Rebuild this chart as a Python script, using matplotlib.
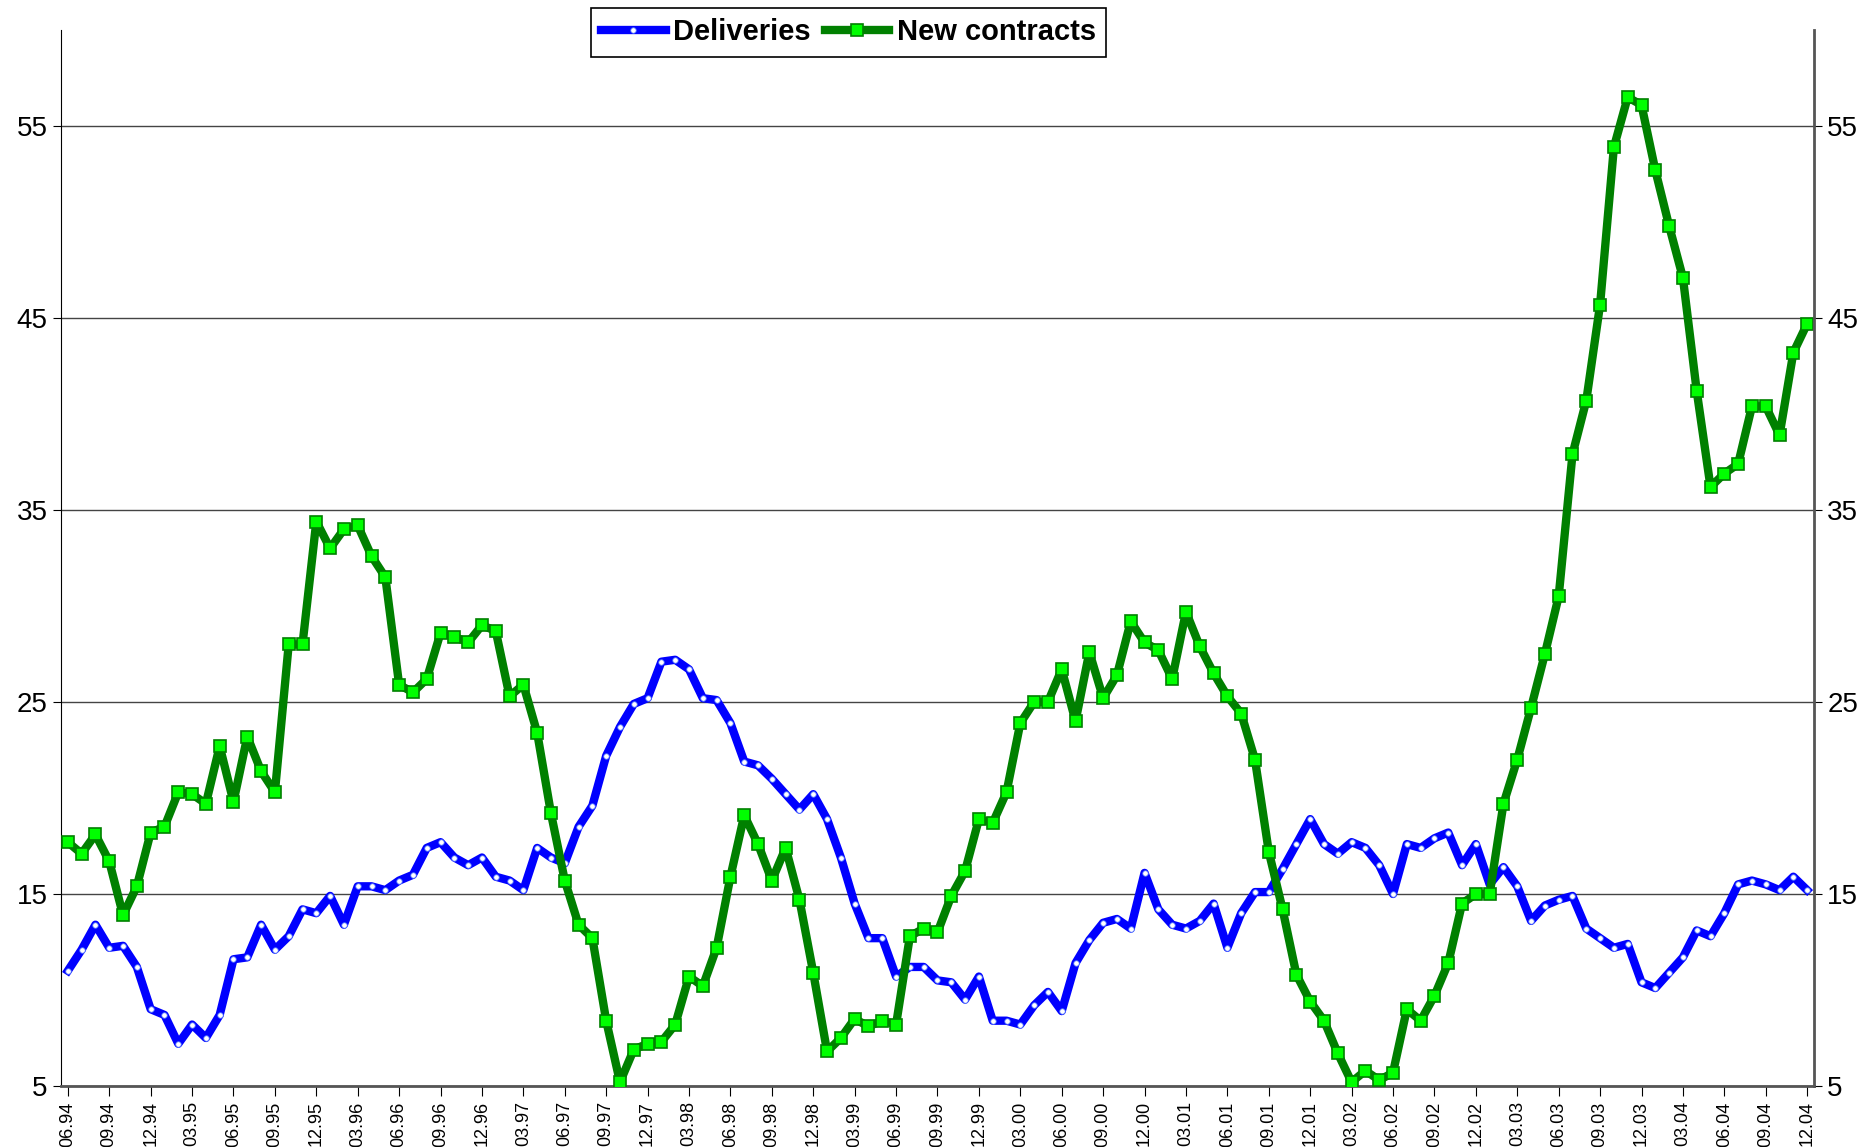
import pandas as pd
import matplotlib.pyplot as plt
import numpy as np

plt.rcParams['font.family'] = ['Liberation Sans', 'DejaVu Sans']

# monthly observations, 06.94 .. 12.04
months = pd.period_range("1994-06", "2004-12", freq="M")
month_labels = [m.strftime("%m.%y") for m in months]

deliveries = [
    11.0, 12.1, 13.4, 12.2, 12.3, 11.2, 9.0, 8.7, 7.2, 8.2, 7.5, 8.7,
    11.6, 11.7, 13.4, 12.1, 12.8, 14.2, 14.0, 14.9, 13.4, 15.4, 15.4, 15.2,
    15.7, 16.0, 17.4, 17.7, 16.9, 16.5, 16.9, 15.9, 15.7, 15.2, 17.4, 16.9,
    16.6, 18.5, 19.6, 22.2, 23.7, 24.9, 25.2, 27.1, 27.2, 26.7, 25.2, 25.1,
    23.9, 21.9, 21.7, 21.0, 20.2, 19.4, 20.2, 18.9, 16.9, 14.5, 12.7, 12.7,
    10.7, 11.2, 11.2, 10.5, 10.4, 9.5, 10.7, 8.4, 8.4, 8.2, 9.2, 9.9,
    8.9, 11.4, 12.6, 13.5, 13.7, 13.2, 16.1, 14.2, 13.4, 13.2, 13.6, 14.5,
    12.2, 14.0, 15.1, 15.1, 16.3, 17.6, 18.9, 17.6, 17.1, 17.7, 17.4, 16.5,
    15.0, 17.6, 17.4, 17.9, 18.2, 16.5, 17.6, 15.5, 16.4, 15.4, 13.6, 14.4,
    14.7, 14.9, 13.2, 12.7, 12.2, 12.4, 10.4, 10.1, 10.9, 11.7, 13.1, 12.8,
    14.0, 15.5, 15.7, 15.5, 15.2, 15.9, 15.2,
]

new_contracts = [
    17.7, 17.1, 18.1, 16.7, 13.9, 15.4, 18.2, 18.5, 20.3, 20.2, 19.7, 22.7,
    19.8, 23.2, 21.4, 20.3, 28.0, 28.0, 34.4, 33.0, 34.0, 34.2, 32.6, 31.5,
    25.9, 25.5, 26.2, 28.6, 28.4, 28.1, 29.0, 28.7, 25.3, 25.9, 23.4, 19.2,
    15.7, 13.4, 12.7, 8.4, 5.2, 6.9, 7.2, 7.3, 8.2, 10.7, 10.2, 12.2,
    15.9, 19.1, 17.6, 15.7, 17.4, 14.7, 10.9, 6.8, 7.5, 8.5, 8.1, 8.4,
    8.2, 12.8, 13.2, 13.0, 14.9, 16.2, 18.9, 18.7, 20.3, 23.9, 25.0, 25.0,
    26.7, 24.0, 27.6, 25.2, 26.4, 29.2, 28.1, 27.7, 26.2, 29.7, 27.9, 26.5,
    25.3, 24.4, 22.0, 17.2, 14.2, 10.8, 9.4, 8.4, 6.7, 5.2, 5.8, 5.3,
    5.7, 9.0, 8.4, 9.7, 11.4, 14.5, 15.0, 15.0, 19.7, 22.0, 24.7, 27.5,
    30.5, 37.9, 40.7, 45.7, 53.9, 56.5, 56.1, 52.7, 49.8, 47.1, 41.2, 36.2,
    36.9, 37.4, 40.4, 40.4, 38.9, 43.2, 44.7,
]

y_ticks = [5, 15, 25, 35, 45, 55]

x = np.arange(len(months))

fig = plt.figure(figsize=(18.69, 11.47), dpi=100)
ax = fig.add_axes([0.0326, 0.0532, 0.9380, 0.9206])

ax.plot(x, deliveries, color="#0000FF", lw=6, marker="o", ms=4,
        mfc="white", mec="#4466FF", mew=0.6, solid_joinstyle="round",
        label="Deliveries", zorder=3)
ax.plot(x, new_contracts, color="#008000", lw=6, marker="s", ms=8,
        mfc="#00FF00", mec="#008000", mew=1.2, solid_joinstyle="round",
        label="New contracts", zorder=4)

ax.set_xlim(-0.5, len(months) - 0.5)
ax.set_ylim(5, 60)
ax.set_yticks(y_ticks)
ax.set_xticks(x[::3])
ax.set_xticklabels(month_labels[::3], rotation=90, fontsize=13)
ax.tick_params(axis="y", labelsize=20, length=6, direction="out")
ax.tick_params(axis="x", length=7, direction="out", pad=4)
ax.grid(axis="y", color="#444444", lw=1)
ax.set_axisbelow(True)

for s in ["top", "right"]:
    ax.spines[s].set_visible(False)
ax.spines["left"].set_color("black")
ax.spines["bottom"].set_color("#555555")
ax.spines["bottom"].set_linewidth(2)

ax2 = ax.twinx()
ax2.set_ylim(5, 60)
ax2.set_yticks(y_ticks)
ax2.tick_params(axis="y", labelsize=20, length=6, direction="out")
for s in ["top", "left", "bottom"]:
    ax2.spines[s].set_visible(False)
ax2.spines["right"].set_color("#555555")
ax2.spines["right"].set_linewidth(2)

leg = fig.legend(loc="upper center", bbox_to_anchor=(0.454, 1.003), ncol=2,
                 prop={"weight": "bold", "size": 21}, handlelength=2.2,
                 handletextpad=0.25, columnspacing=0.5, borderpad=0.35,
                 borderaxespad=0.4, fancybox=False, framealpha=1,
                 edgecolor="black")
leg.get_frame().set_linewidth(1.2)

fig.savefig("out.png", dpi=100)
